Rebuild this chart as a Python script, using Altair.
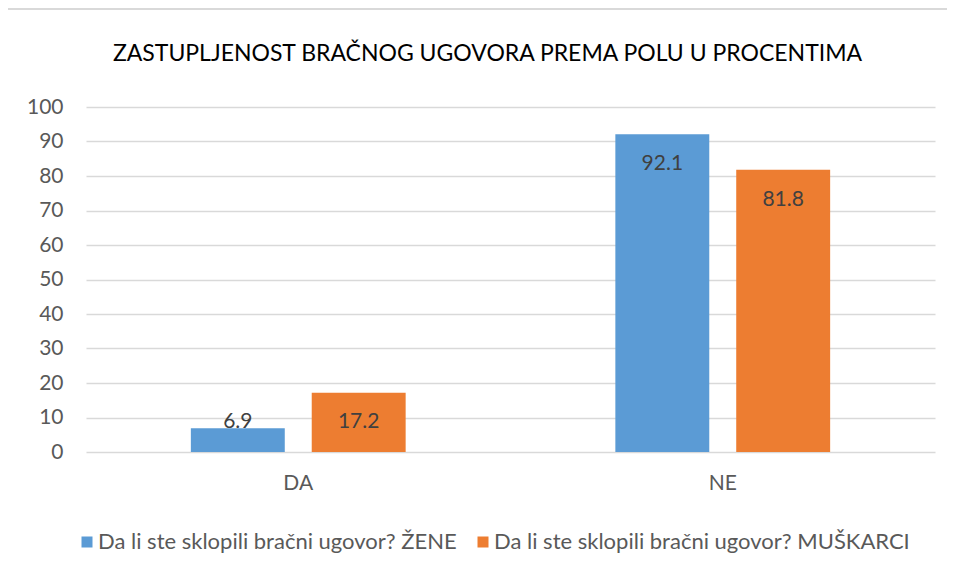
import altair as alt
import pandas as pd

categories = ["DA", "NE"]
series = ["Da li ste sklopili bračni ugovor? ŽENE", "Da li ste sklopili bračni ugovor? MUŠKARCI"]
zene = [6.9, 92.1]
muskarci = [17.2, 81.8]
colors = ["#5B9BD5", "#ED7D31"]
y_ticks = [0, 10, 20, 30, 40, 50, 60, 70, 80, 90, 100]
title_text = "ZASTUPLJENOST BRAČNOG UGOVORA PREMA POLU U PROCENTIMA"

rows = []
for i, c in enumerate(categories):
    rows.append({"cat": c, "series": series[0], "value": zene[i]})
    rows.append({"cat": c, "series": series[1], "value": muskarci[i]})
df = pd.DataFrame(rows)

FONT = "Lato"
GRID = "#D9D9D9"
FS = 21

x_enc = alt.X("cat:N", sort=categories, title=None,
              scale=alt.Scale(paddingInner=0.494, paddingOuter=0.247),
              axis=alt.Axis(labelAngle=0, ticks=False, domain=False, labelPadding=20,
                            labelFontSize=FS, labelFont=FONT, labelColor="#595959"))
xoff = alt.XOffset("series:N", sort=series, scale=alt.Scale(paddingInner=0.223, paddingOuter=0))
y_scale = alt.Scale(domain=[0, 100], nice=False)
y_axis = alt.Axis(values=y_ticks, tickCount=11, ticks=False, domain=False,
                  labelOverlap=False, labelPadding=23, labelFontSize=FS,
                  labelFont=FONT, labelColor="#595959",
                  gridColor=GRID, gridWidth=1.5)

bars = alt.Chart(df).mark_bar().encode(
    x=x_enc,
    xOffset=xoff,
    y=alt.Y("value:Q", scale=y_scale, title=None, axis=y_axis),
    color=alt.Color("series:N", sort=series,
                    scale=alt.Scale(domain=series, range=colors),
                    legend=alt.Legend(orient="none", legendX=-10, legendY=424,
                                      direction="horizontal", title=None,
                                      symbolType="square", symbolSize=121,
                                      symbolStrokeWidth=0, labelFontSize=22,
                                      labelFont=FONT, labelColor="#595959",
                                      labelLimit=0, labelOffset=0, columnPadding=15,
                                      padding=0)),
)

labels = alt.Chart(df).transform_calculate(
    label_y="max(datum.value - 8.7, 8.7)"
).mark_text(fontSize=FS, font=FONT, color="#404040", baseline="middle").encode(
    x=alt.X("cat:N", sort=categories),
    xOffset=xoff,
    y=alt.Y("label_y:Q", scale=y_scale, title=None, axis=y_axis),
    text=alt.Text("value:Q", format=".1f"),
)

border_df = pd.DataFrame({"b": [0]})
border = alt.Chart(border_df).mark_rect(filled=False, stroke=GRID, strokeWidth=2).encode(
    x=alt.value(-80), x2=alt.value(1000), y=alt.value(-98), y2=alt.value(700)
)

chart = alt.layer(border, bars, labels).properties(
    width=849, height=345,
    padding={"left": 78, "top": 99, "right": 12, "bottom": 110},
    autosize=alt.AutoSizeParams(type="none"),
    title=alt.TitleParams(title_text, anchor="middle", dx=-23, fontSize=23, font=FONT,
                          fontWeight="normal", color="#000000", baseline="alphabetic",
                          offset=-76),
).configure_view(stroke=None)

chart.save("out.html", embed_options={"renderer": "svg", "actions": False})
